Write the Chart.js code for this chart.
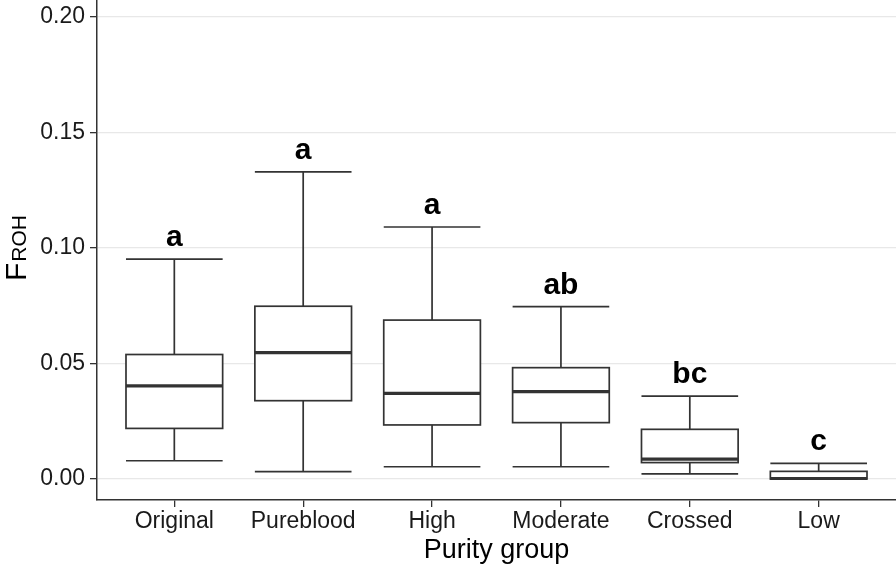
<!DOCTYPE html>
<html>
<head>
<meta charset="utf-8">
<script src="https://cdn.jsdelivr.net/npm/chart.js@4.4.1/dist/chart.umd.min.js"></script>
<style>
  html, body { margin: 0; padding: 0; background: #fff; }
  #wrap { width: 896px; height: 567px; }
</style>
</head>
<body>
<div id="wrap"><canvas id="myChart" width="896" height="567"></canvas></div>
<script>
// purity groups and box stats
const groups = ['Original', 'Pureblood', 'High', 'Moderate', 'Crossed', 'Low'];
const lowerWhisker = [0.0079, 0.0032, 0.0053, 0.0053, 0.0022, 0.0000];
const q1 = [0.0219, 0.0339, 0.0234, 0.0244, 0.0071, 0.0000];
const medians = [0.0403, 0.0547, 0.0371, 0.0378, 0.0086, 0.0002];
const q3 = [0.0539, 0.0748, 0.0688, 0.0482, 0.0215, 0.0033];
const upperWhisker = [0.0952, 0.1330, 0.1091, 0.0746, 0.0359, 0.0068];
const letters = ['a', 'a', 'a', 'ab', 'bc', 'c'];
const yTicks = [0, 0.05, 0.10, 0.15, 0.20];

const FONT = "'Liberation Sans', Arial, sans-serif";
const INK = '#333333';

// draws boxes using the chart scales
const boxPlugin = {
  id: 'boxes',
  beforeDatasetsDraw(chart) {
    const ctx = chart.ctx;
    const x = chart.scales.x;
    const y = chart.scales.y;
    const half = (x.getPixelForValue(1) - x.getPixelForValue(0)) * 0.75 / 2;
    ctx.save();
    ctx.strokeStyle = INK;
    groups.forEach((g, i) => {
      const cx = x.getPixelForValue(i);
      const yMin = y.getPixelForValue(lowerWhisker[i]);
      const yQ1 = y.getPixelForValue(q1[i]);
      const yMed = y.getPixelForValue(medians[i]);
      const yQ3 = y.getPixelForValue(q3[i]);
      const yMax = y.getPixelForValue(upperWhisker[i]);
      ctx.lineWidth = 1.7;
      // whiskers
      ctx.beginPath();
      ctx.moveTo(cx, yMax); ctx.lineTo(cx, yQ3);
      ctx.moveTo(cx, yQ1); ctx.lineTo(cx, yMin);
      ctx.moveTo(cx - half, yMax); ctx.lineTo(cx + half, yMax);
      ctx.moveTo(cx - half, yMin); ctx.lineTo(cx + half, yMin);
      ctx.stroke();
      // box
      ctx.fillStyle = '#ffffff';
      ctx.fillRect(cx - half, yQ3, half * 2, yQ1 - yQ3);
      ctx.strokeRect(cx - half, yQ3, half * 2, yQ1 - yQ3);
      // median
      ctx.lineWidth = 3.2;
      ctx.beginPath();
      ctx.moveTo(cx - half, yMed); ctx.lineTo(cx + half, yMed);
      ctx.stroke();
      // letters
      ctx.fillStyle = '#000';
      ctx.font = 'bold 30px ' + FONT;
      ctx.textAlign = 'center';
      ctx.textBaseline = 'alphabetic';
      ctx.fillText(letters[i], cx, yMax - 13);
    });
    ctx.restore();
  },
  afterDraw(chart) {
    // y title with subscript
    const ctx = chart.ctx;
    ctx.save();
    ctx.translate(26, 281);
    ctx.rotate(-Math.PI / 2);
    ctx.fillStyle = '#000';
    ctx.textBaseline = 'alphabetic';
    ctx.textAlign = 'left';
    ctx.font = '30px ' + FONT;
    ctx.fillText('F', 0, 0);
    const w = ctx.measureText('F').width;
    ctx.font = '21px ' + FONT;
    ctx.fillText('ROH', w + 1, 0);
    ctx.restore();
  }
};

const ctx = document.getElementById('myChart');

new Chart(ctx, {
  type: 'scatter',
  data: {
    datasets: [{
      data: groups.map((g, i) => ({ x: i, y: medians[i] })),
      pointRadius: 0,
      pointHoverRadius: 0
    }]
  },
  options: {
    responsive: false,
    animation: false,
    events: [],
    layout: { padding: 0 },
    plugins: {
      legend: { display: false },
      tooltip: { enabled: false }
    },
    scales: {
      x: {
        type: 'linear',
        min: -0.6,
        max: 5.6,
        afterBuildTicks: (scale) => {
          scale.ticks = groups.map((g, i) => ({ value: i }));
        },
        afterFit: (scale) => {
          scale.height = 67;
          scale.paddingLeft = 0;
          scale.paddingRight = 0;
        },
        grid: { drawOnChartArea: false, drawTicks: true, tickLength: 7, tickColor: INK, lineWidth: 1.3 },
        border: { display: true, color: INK, width: 1.5 },
        ticks: {
          autoSkip: false,
          maxRotation: 0,
          padding: 1,
          color: '#1a1a1a',
          font: { family: FONT, size: 23 },
          callback: (v) => groups[v]
        },
        title: {
          display: true,
          text: 'Purity group',
          color: '#000',
          font: { family: FONT, size: 27 },
          padding: { top: 0, bottom: 0 }
        }
      },
      y: {
        min: -0.0091,
        max: 0.2074,
        afterBuildTicks: (scale) => {
          scale.ticks = yTicks.map(v => ({ value: v }));
        },
        afterFit: (scale) => {
          scale.width = 97;
          scale.paddingTop = 0;
          scale.paddingBottom = 0;
        },
        grid: { color: '#e8e8e8', lineWidth: 1.3, drawTicks: true, tickLength: 7, tickColor: INK },
        border: { display: true, color: INK, width: 1.5 },
        ticks: {
          padding: 5,
          color: '#1a1a1a',
          font: { family: FONT, size: 23 },
          callback: (v) => v.toFixed(2)
        }
      }
    }
  },
  plugins: [boxPlugin]
});
</script>
</body>
</html>
